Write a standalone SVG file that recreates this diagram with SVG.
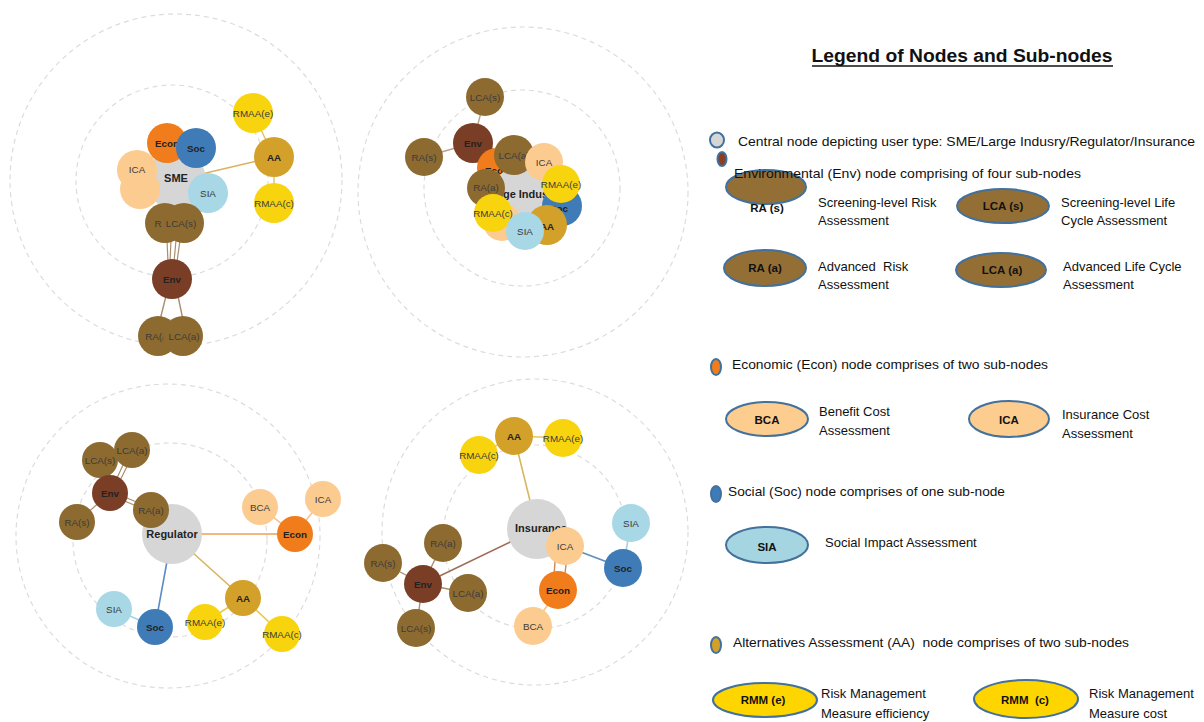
<svg xmlns="http://www.w3.org/2000/svg" width="1204" height="722" viewBox="0 0 1204 722">
<style>
.ring{fill:none;stroke:#dcdcdc;stroke-width:1.2;stroke-dasharray:5 4}
.c{fill:#d6d6d6}
.env{fill:#7a3e27}
.br{fill:#8d6a2f}
.econ{fill:#f07c1c}
.lo{fill:#fccb8f}
.soc{fill:#3f7cb7}
.sia{fill:#a8d7e6}
.aa{fill:#d3a02a}
.ye{fill:#f8d40f}
.t{font-family:"Liberation Sans",Arial,sans-serif;font-size:9.8px;fill:#3b3b3b;text-anchor:middle;dominant-baseline:central}
.b{font-weight:bold;fill:#222}
.big{font-size:11px}
.e{stroke-linecap:round;fill:none}
.lg{font-family:"Liberation Sans",Arial,sans-serif;font-size:13px;fill:#111}
.ll{font-family:"Liberation Sans",Arial,sans-serif;font-size:11.5px;font-weight:bold;fill:#111;text-anchor:middle;dominant-baseline:central}
.le{stroke:#41719c;stroke-width:2}
</style>
<rect width="1204" height="722" fill="#ffffff"/>

<g id="rings">
<circle class="ring" cx="176" cy="180" r="166"/>
<circle class="ring" cx="172" cy="181" r="96"/>
<circle class="ring" cx="523" cy="192" r="165"/>
<circle class="ring" cx="522" cy="188" r="98"/>
<circle class="ring" cx="168" cy="536" r="152"/>
<circle class="ring" cx="170" cy="540" r="97"/>
<circle class="ring" cx="535" cy="532" r="153"/>
<circle class="ring" cx="535" cy="537" r="92"/>
</g>

<g id="connectors">
<line class="e" x1="176" y1="180" x2="274" y2="157" stroke="#d8b25c" stroke-width="1.6"/>
<line class="e" x1="274" y1="157" x2="253" y2="113" stroke="#e3c25a" stroke-width="1.4"/>
<line class="e" x1="274" y1="157" x2="274" y2="203" stroke="#e3c25a" stroke-width="1.4"/>
<line class="e" x1="167" y1="240" x2="168" y2="262" stroke="#a88e6c" stroke-width="1.2"/>
<line class="e" x1="171" y1="240" x2="170" y2="262" stroke="#a88e6c" stroke-width="1.2"/>
<line class="e" x1="176" y1="240" x2="174" y2="262" stroke="#a88e6c" stroke-width="1.2"/>
<line class="e" x1="180" y1="240" x2="177" y2="262" stroke="#a88e6c" stroke-width="1.2"/>
<line class="e" x1="166" y1="296" x2="160" y2="320" stroke="#a88e6c" stroke-width="1.4"/>
<line class="e" x1="178" y1="296" x2="183" y2="320" stroke="#a88e6c" stroke-width="1.4"/>
<line class="e" x1="473" y1="143" x2="485" y2="97" stroke="#b5a48c" stroke-width="1.4"/>
<line class="e" x1="473" y1="143" x2="424" y2="157" stroke="#b5a48c" stroke-width="1.4"/>
<line class="e" x1="473" y1="143" x2="514" y2="155" stroke="#b5a48c" stroke-width="1.4"/>
<line class="e" x1="172" y1="534" x2="295" y2="534" stroke="#f1b77c" stroke-width="1.8"/>
<line class="e" x1="172" y1="534" x2="243" y2="598" stroke="#d8b55e" stroke-width="1.6"/>
<line class="e" x1="172" y1="534" x2="155" y2="627" stroke="#5b8cc2" stroke-width="1.6"/>
<line class="e" x1="295" y1="534" x2="260" y2="507" stroke="#f6c48e" stroke-width="1.6"/>
<line class="e" x1="295" y1="534" x2="323" y2="499" stroke="#f6c48e" stroke-width="1.6"/>
<line class="e" x1="243" y1="598" x2="205" y2="622" stroke="#e8c94e" stroke-width="1.6"/>
<line class="e" x1="243" y1="598" x2="282" y2="634" stroke="#e8c94e" stroke-width="1.6"/>
<line class="e" x1="155" y1="627" x2="114" y2="609" stroke="#a8d2e2" stroke-width="1.6"/>
<line class="e" x1="110" y1="491" x2="151" y2="508" stroke="#a88e6c" stroke-width="1.2"/>
<line class="e" x1="110" y1="495" x2="151" y2="512" stroke="#a88e6c" stroke-width="1.2"/>
<line class="e" x1="108" y1="493" x2="100" y2="460" stroke="#a88e6c" stroke-width="1.2"/>
<line class="e" x1="110" y1="493" x2="130" y2="450" stroke="#a88e6c" stroke-width="1.2"/>
<line class="e" x1="114" y1="493" x2="134" y2="452" stroke="#a88e6c" stroke-width="1.2"/>
<line class="e" x1="110" y1="493" x2="77" y2="522" stroke="#a88e6c" stroke-width="1.2"/>
<line class="e" x1="537" y1="529" x2="514" y2="436" stroke="#d8b55e" stroke-width="1.6"/>
<line class="e" x1="537" y1="529" x2="423" y2="584" stroke="#a06d5a" stroke-width="1.6"/>
<line class="e" x1="565" y1="546" x2="623" y2="568" stroke="#5b8cc2" stroke-width="1.6"/>
<line class="e" x1="556" y1="548" x2="553" y2="590" stroke="#c98a55" stroke-width="1.4"/>
<line class="e" x1="568" y1="548" x2="563" y2="590" stroke="#c98a55" stroke-width="1.4"/>
<line class="e" x1="558" y1="590" x2="533" y2="626" stroke="#f6c48e" stroke-width="1.6"/>
<line class="e" x1="623" y1="568" x2="631" y2="523" stroke="#a8d2e2" stroke-width="1.6"/>
<line class="e" x1="514" y1="436" x2="563" y2="438" stroke="#e8c94e" stroke-width="1.6"/>
<line class="e" x1="514" y1="436" x2="479" y2="455" stroke="#e8c94e" stroke-width="1.6"/>
<line class="e" x1="423" y1="584" x2="383" y2="563" stroke="#a88e6c" stroke-width="1.4"/>
<line class="e" x1="423" y1="584" x2="443" y2="543" stroke="#a88e6c" stroke-width="1.4"/>
<line class="e" x1="423" y1="584" x2="468" y2="593" stroke="#a88e6c" stroke-width="1.4"/>
<line class="e" x1="423" y1="584" x2="416" y2="628" stroke="#a88e6c" stroke-width="1.4"/>
</g>

<g id="sme-center"><circle class="c" cx="176" cy="180" r="30"/><text class="t b big" x="176" y="178">SME</text></g>
<g id="sme-bca"><circle class="lo" cx="140" cy="189" r="20"/></g>
<g id="sme-ica"><circle class="lo" cx="137" cy="170" r="20"/><text class="t" x="137" y="169">ICA</text></g>
<g id="sme-econ"><circle class="econ" cx="167" cy="143" r="20"/><text class="t b" x="167" y="143">Econ</text></g>
<g id="sme-soc"><circle class="soc" cx="196" cy="148" r="20"/><text class="t b" x="196" y="148">Soc</text></g>
<g id="sme-sia"><circle class="sia" cx="208" cy="193" r="20"/><text class="t" x="208" y="193">SIA</text></g>
<g id="sme-ras"><circle class="br" cx="165" cy="223" r="20"/><text class="t" x="158" y="223">R</text></g>
<g id="sme-lcas"><circle class="br" cx="184" cy="223" r="20"/><text class="t" x="181" y="223">LCA(s)</text></g>
<g id="sme-env"><circle class="env" cx="172" cy="279" r="20"/><text class="t b" x="172" y="279">Env</text></g>
<g id="sme-raa"><circle class="br" cx="158" cy="336" r="20"/><text class="t" x="158" y="336">RA(a)</text></g>
<g id="sme-lcaa"><circle class="br" cx="183" cy="336" r="20"/><text class="t" x="184" y="336">LCA(a)</text></g>
<g id="sme-aa"><circle class="aa" cx="274" cy="157" r="20"/><text class="t b" x="274" y="157">AA</text></g>
<g id="sme-rmaae"><circle class="ye" cx="253" cy="113" r="20"/><text class="t" x="253" y="113">RMAA(e)</text></g>
<g id="sme-rmaac"><circle class="ye" cx="274" cy="203" r="20"/><text class="t" x="274" y="203">RMAA(c)</text></g>

<g id="li-lcas"><circle class="br" cx="485" cy="97" r="19"/><text class="t" x="485" y="97">LCA(s)</text></g>
<g id="li-ras"><circle class="br" cx="424" cy="157" r="19"/><text class="t" x="424" y="157">RA(s)</text></g>
<g id="li-env"><circle class="env" cx="473" cy="143" r="20"/><text class="t b" x="473" y="143">Env</text></g>
<g id="li-econ"><circle class="econ" cx="497" cy="168" r="20"/><text class="t b" x="497" y="170">Econ</text></g>
<g id="li-center"><circle class="c" cx="520" cy="193" r="27"/><text class="t b big" x="524" y="194">Large Industry</text></g>
<g id="li-lcaa"><circle class="br" cx="514" cy="155" r="20"/><text class="t" x="514" y="155">LCA(a)</text></g>
<g id="li-ica"><circle class="lo" cx="544" cy="162" r="19"/><text class="t" x="544" y="162">ICA</text></g>
<g id="li-raa"><circle class="br" cx="486" cy="188" r="19"/><text class="t" x="486" y="187">RA(a)</text></g>
<g id="li-soc"><circle class="soc" cx="562" cy="206" r="20"/><text class="t b" x="559" y="208">Soc</text></g>
<g id="li-rmaae"><circle class="ye" cx="561" cy="184" r="19"/><text class="t" x="561" y="184">RMAA(e)</text></g>
<g id="li-bca"><circle class="lo" cx="502" cy="222" r="19"/></g>
<g id="li-aa"><circle class="aa" cx="547" cy="225" r="20"/><text class="t b" x="547" y="226">AA</text></g>
<g id="li-rmaac"><circle class="ye" cx="493" cy="213" r="19"/><text class="t" x="493" y="213">RMAA(c)</text></g>
<g id="li-sia"><circle class="sia" cx="525" cy="231" r="19"/><text class="t" x="525" y="231">SIA</text></g>

<g id="rg-lcaa"><circle class="br" cx="132" cy="450" r="18"/><text class="t" x="132" y="450">LCA(a)</text></g>
<g id="rg-lcas"><circle class="br" cx="100" cy="460" r="18"/><text class="t" x="100" y="460">LCA(s)</text></g>
<g id="rg-env"><circle class="env" cx="110" cy="493" r="18"/><text class="t b" x="110" y="493">Env</text></g>
<g id="rg-ras"><circle class="br" cx="77" cy="522" r="18"/><text class="t" x="77" y="522">RA(s)</text></g>
<g id="rg-center"><circle class="c" cx="172" cy="534" r="30"/><text class="t b big" x="172" y="534">Regulator</text></g>
<g id="rg-raa"><circle class="br" cx="151" cy="510" r="18"/><text class="t" x="151" y="510">RA(a)</text></g>
<g id="rg-bca"><circle class="lo" cx="260" cy="507" r="18"/><text class="t" x="260" y="507">BCA</text></g>
<g id="rg-ica"><circle class="lo" cx="323" cy="499" r="18"/><text class="t" x="323" y="499">ICA</text></g>
<g id="rg-econ"><circle class="econ" cx="295" cy="534" r="18"/><text class="t b" x="295" y="534">Econ</text></g>
<g id="rg-aa"><circle class="aa" cx="243" cy="598" r="18"/><text class="t b" x="243" y="598">AA</text></g>
<g id="rg-rmaae"><circle class="ye" cx="205" cy="622" r="18"/><text class="t" x="205" y="622">RMAA(e)</text></g>
<g id="rg-rmaac"><circle class="ye" cx="282" cy="634" r="18"/><text class="t" x="282" y="634">RMAA(c)</text></g>
<g id="rg-sia"><circle class="sia" cx="114" cy="609" r="18"/><text class="t" x="114" y="609">SIA</text></g>
<g id="rg-soc"><circle class="soc" cx="155" cy="627" r="18"/><text class="t b" x="155" y="627">Soc</text></g>

<g id="in-aa"><circle class="aa" cx="514" cy="436" r="19"/><text class="t b" x="514" y="436">AA</text></g>
<g id="in-rmaae"><circle class="ye" cx="563" cy="438" r="19"/><text class="t" x="563" y="438">RMAA(e)</text></g>
<g id="in-rmaac"><circle class="ye" cx="479" cy="455" r="19"/><text class="t" x="479" y="455">RMAA(c)</text></g>
<g id="in-center"><circle class="c" cx="537" cy="529" r="30"/><text class="t b big" x="541" y="528">Insurance</text></g>
<g id="in-sia"><circle class="sia" cx="631" cy="523" r="19"/><text class="t" x="631" y="523">SIA</text></g>
<g id="in-ica"><circle class="lo" cx="565" cy="546" r="19"/><text class="t" x="565" y="546">ICA</text></g>
<g id="in-soc"><circle class="soc" cx="623" cy="568" r="19"/><text class="t b" x="623" y="568">Soc</text></g>
<g id="in-econ"><circle class="econ" cx="558" cy="590" r="19"/><text class="t b" x="558" y="590">Econ</text></g>
<g id="in-bca"><circle class="lo" cx="533" cy="626" r="19"/><text class="t" x="533" y="626">BCA</text></g>
<g id="in-raa"><circle class="br" cx="443" cy="543" r="19"/><text class="t" x="443" y="543">RA(a)</text></g>
<g id="in-ras"><circle class="br" cx="383" cy="563" r="19"/><text class="t" x="383" y="563">RA(s)</text></g>
<g id="in-lcaa"><circle class="br" cx="468" cy="593" r="19"/><text class="t" x="468" y="593">LCA(a)</text></g>
<g id="in-lcas"><circle class="br" cx="416" cy="628" r="19"/><text class="t" x="416" y="628">LCA(s)</text></g>
<g id="in-env"><circle class="env" cx="423" cy="584" r="19"/><text class="t b" x="423" y="584">Env</text></g>

<g id="legend">
<text x="962" y="62" font-family="'Liberation Sans',Arial,sans-serif" font-size="17.5" font-weight="bold" fill="#111" text-anchor="middle" textLength="301" lengthAdjust="spacingAndGlyphs">Legend of Nodes and Sub-nodes</text>
<line x1="812" y1="66" x2="1113" y2="66" stroke="#111" stroke-width="1.4"/>

<ellipse cx="717" cy="140" rx="7" ry="7.5" fill="#d6d6d6" class="le"/>
<text class="lg" x="738" y="146" textLength="457" lengthAdjust="spacingAndGlyphs">Central node depicting user type: SME/Large Indusry/Regulator/Insurance</text>
<ellipse cx="722" cy="159" rx="4.5" ry="7" fill="#8b3f25" class="le"/>

<ellipse cx="766" cy="187" rx="40" ry="17" fill="#946f35" class="le"/>
<text class="lg" x="734" y="178" textLength="347" lengthAdjust="spacingAndGlyphs">Environmental (Env) node comprising of four sub-nodes</text>
<text class="ll" x="767" y="208">RA (s)</text>
<text class="lg" x="818" y="207">Screening-level Risk</text>
<text class="lg" x="818" y="225">Assessment</text>
<ellipse cx="1003" cy="206" rx="46" ry="17" fill="#946f35" class="le"/>
<text class="ll" x="1003" y="206">LCA (s)</text>
<text class="lg" x="1061" y="207">Screening-level Life</text>
<text class="lg" x="1061" y="225">Cycle Assessment</text>

<ellipse cx="765" cy="268" rx="41" ry="18" fill="#946f35" class="le"/>
<text class="ll" x="765" y="268">RA (a)</text>
<text class="lg" x="818" y="271" xml:space="preserve">Advanced  Risk</text>
<text class="lg" x="818" y="289">Assessment</text>
<ellipse cx="1001" cy="270" rx="45" ry="17" fill="#946f35" class="le"/>
<text class="ll" x="1002" y="270">LCA (a)</text>
<text class="lg" x="1063" y="271">Advanced Life Cycle</text>
<text class="lg" x="1063" y="289">Assessment</text>

<ellipse cx="716" cy="367" rx="5" ry="8" fill="#f07c1c" class="le"/>
<text class="lg" x="732" y="369" textLength="316" lengthAdjust="spacingAndGlyphs">Economic (Econ) node comprises of two sub-nodes</text>
<ellipse cx="767" cy="419" rx="41" ry="17" fill="#fdcc8f" class="le"/>
<text class="ll" x="767" y="420">BCA</text>
<text class="lg" x="819" y="416">Benefit Cost</text>
<text class="lg" x="819" y="435">Assessment</text>
<ellipse cx="1009" cy="419" rx="40" ry="18" fill="#fdcc8f" class="le"/>
<text class="ll" x="1009" y="420">ICA</text>
<text class="lg" x="1062" y="419">Insurance Cost</text>
<text class="lg" x="1062" y="438">Assessment</text>

<ellipse cx="716" cy="494" rx="5" ry="8" fill="#3f7cb7" class="le"/>
<text class="lg" x="728" y="496" textLength="277" lengthAdjust="spacingAndGlyphs">Social (Soc) node comprises of one sub-node</text>
<ellipse cx="767" cy="545" rx="41" ry="18" fill="#a6d5e2" class="le"/>
<text class="ll" x="767" y="547">SIA</text>
<text class="lg" x="825" y="547">Social Impact Assessment</text>

<ellipse cx="716" cy="645" rx="5" ry="8" fill="#d3a02a" class="le"/>
<text class="lg" x="733" y="647" textLength="396" lengthAdjust="spacingAndGlyphs" xml:space="preserve">Alternatives Assessment (AA)  node comprises of two sub-nodes</text>
<ellipse cx="765" cy="700" rx="52" ry="17" fill="#ffd500" class="le"/>
<text class="ll" x="763" y="700">RMM (e)</text>
<text class="lg" x="821" y="698">Risk Management</text>
<text class="lg" x="821" y="718">Measure efficiency</text>
<ellipse cx="1026" cy="699" rx="52" ry="19" fill="#ffd500" class="le"/>
<text class="ll" x="1025" y="700" xml:space="preserve">RMM  (c)</text>
<text class="lg" x="1089" y="698">Risk Management</text>
<text class="lg" x="1089" y="718">Measure cost</text>
</g>
</svg>
